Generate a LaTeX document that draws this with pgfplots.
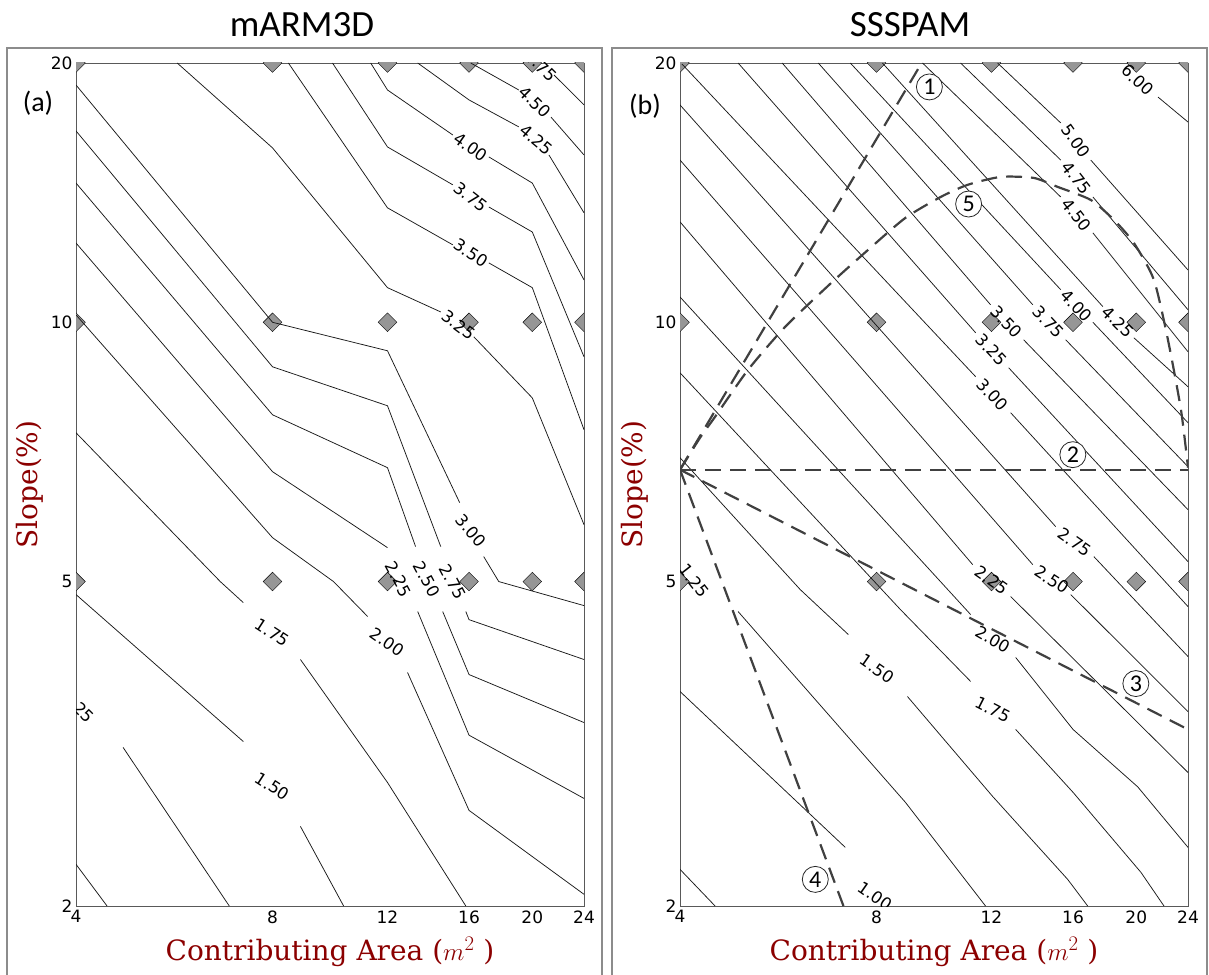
\documentclass[border=0pt]{standalone}
\usepackage{fontspec}
\usepackage{pgfplots}
\pgfplotsset{compat=1.18}
\setmainfont{DejaVu Sans}
\newfontfamily\dvserif{DejaVu Serif}
\newfontfamily\calibri{Carlito}
\definecolor{labred}{RGB}{139,0,0}
\definecolor{markgray}{RGB}{150,150,150}
\definecolor{dashgray}{RGB}{64,64,64}

\tikzset{
  cline/.style={black!90, line width=0.75pt},
  clab/.style={font=\fontsize{16.5}{18}\selectfont, inner sep=0pt},
  route/.style={dashgray, line width=2.2pt, dash pattern=on 16pt off 9pt},
  circ/.style={circle, draw=black!85, line width=0.8pt, fill=white,
    minimum size=26pt, inner sep=0pt, font=\calibri\fontsize{24}{24}\selectfont},
}

\begin{document}
\begin{tikzpicture}
\path[use as bounding box] (0pt,0pt) rectangle (1209pt,974pt);
% panel frames
\draw[black!45, line width=1.3pt] (7pt,-5pt) -- (7pt,926pt) -- (602pt,926pt) -- (602pt,-5pt);
\draw[black!45, line width=1.3pt] (612pt,-5pt) -- (612pt,926pt) -- (1207pt,926pt) -- (1207pt,-5pt);
% titles
\node[font=\calibri\fontsize{37}{40}\selectfont, anchor=base] at (302pt,937pt) {mARM3D};
\node[font=\calibri\fontsize{37}{40}\selectfont, anchor=base] at (910pt,937pt) {SSSPAM};
\node[font=\calibri\fontsize{28}{32}\selectfont] at (38pt,871pt) {(a)};
\node[font=\calibri\fontsize{28}{32}\selectfont] at (645pt,868pt) {(b)};

% ---------------- (a) mARM3D ----------------
% slope axis: logarithmic above 5 %, slightly compressed below
\begin{axis}[at={(76pt,68pt)}, anchor=south west,
    scale only axis, width=508pt, height=843pt,
    xmode=log, xmin=4, xmax=24, ymin=2, ymax=20,
    y coord trafo/.code={\pgfmathparse{(#1>=5) ? ln(#1) : (1.609438-0.9464*(1.609438-ln(#1)))}},
    y coord inv trafo/.code={\pgfmathparse{(#1>=1.609438) ? exp(#1) : exp(1.609438-(1.609438-#1)/0.9464)}},
    xtick={4,8,12,16,20,24},
    xticklabels={\mbox{4},\mbox{8},\mbox{12},\mbox{16},\mbox{20},\mbox{24}},
    ytick={2,5,10,20}, yticklabels={\mbox{2},\mbox{5},\mbox{10},\mbox{20}},
    xminorticks=false, yminorticks=false,
    major tick length=0pt,
    tick label style={font=\fontsize{17}{20}\selectfont},
    xticklabel style={yshift=-1pt},
    axis line style={black!65, line width=0.9pt},
    xlabel={Contributing Area ($m^2$ )},
    ylabel={Slope(\%)},
    label style={font=\dvserif\fontsize{28}{32}\selectfont, color=labred},
    xlabel style={at={(axis description cs:0.5,0)}, anchor=base, yshift=-54pt},
    ylabel style={at={(axis description cs:-0.0906,0.5)}, anchor=center},
    clip marker paths=true]
\addplot[only marks, mark=square*, mark size=6.6pt,
    mark options={rotate=45, draw=none, fill=markgray}]
  coordinates {(4,2)(8,2)(12,2)(16,2)(20,2)(24,2)
  (4,5)(8,5)(12,5)(16,5)(20,5)(24,5)
  (4,10)(8,10)(12,10)(16,10)(20,10)(24,10)
  (4,20)(8,20)(12,20)(16,20)(20,20)(24,20)};
% level 1.00
\addplot[cline, no marks] coordinates {(4,2.25) (4.463,2)};
% level 1.25
\addplot[cline, no marks] coordinates {(4.723,3.13) (6.869,2)};
% level 1.50
\addplot[cline, no marks] coordinates {(4,4.82) (7.217,3.183)};
\addplot[cline, no marks] coordinates {(8.828,2.504) (10.28,2)};
% level 1.75
\addplot[cline, no marks] coordinates {(4,7.444) (6.654,5) (7.217,4.712)};
\addplot[cline, no marks] coordinates {(8.828,4.012) (12,2.835) (15.82,2)};
% level 2.00
\addplot[cline, no marks] coordinates {(4,10.2) (8,5.623) (9.92,5) (11.19,4.53)};
\addplot[cline, no marks] coordinates {(12.88,3.868) (16,2.62) (24,2.067)};
% level 2.25
\addplot[cline, no marks] coordinates {(4,12.36) (8,6.708) (12,5.475)};
\addplot[cline, no marks] coordinates {(13.35,4.594) (16,3.24) (24,2.71)};
% level 2.50
\addplot[cline, no marks] coordinates {(4,14.51) (8,7.81) (12,6.78) (13.25,5.49)};
\addplot[cline, no marks] coordinates {(14.58,4.594) (16,3.846) (24,3.358)};
% level 2.75
\addplot[cline, no marks] coordinates {(4,16.68) (8,8.878) (12,8.0) (14.48,5.49)};
\addplot[cline, no marks] coordinates {(15.82,4.594) (16,4.49) (24,4.012)};
% level 3.00
\addplot[cline, no marks] coordinates {(4,18.86) (8,10) (12,9.267) (15.48,6.175)};
\addplot[cline, no marks] coordinates {(16.85,5.345) (17.77,5) (24,4.672)};
% level 3.25
\addplot[cline, no marks] coordinates {(5.716,20) (8,15.94) (12,10.97) (14.48,10.28)};
\addplot[cline, no marks] coordinates {(16.27,9.62) (20,8.17) (24,5.822)};
% level 3.50
\addplot[cline, no marks] coordinates {(8.461,20) (12,13.58) (15.11,12.30)};
\addplot[cline, no marks] coordinates {(17.16,11.72) (20,10.97) (24,7.504)};
% level 3.75
\addplot[cline, no marks] coordinates {(9.885,20) (12,15.98) (15.11,14.44)};
\addplot[cline, no marks] coordinates {(17.16,13.61) (20,12.73) (24,9.119)};
% level 4.00
\addplot[cline, no marks] coordinates {(11.31,20) (12,18.61) (15.11,16.50)};
\addplot[cline, no marks] coordinates {(17.16,15.56) (20,14.51) (24,11.20)};
% level 4.25
\addplot[cline, no marks] coordinates {(13.35,20) (16,18.12) (19.07,16.86)};
\addplot[cline, no marks] coordinates {(21.21,15.64) (24,13.40)};
% level 4.50
\addplot[cline, no marks] coordinates {(16.10,20) (19.07,18.61)};
\addplot[cline, no marks] coordinates {(21.36,17.31) (24,15.64)};
% level 4.75
\addplot[cline, no marks] coordinates {(21.59,19.37) (24,17.88)};
% contour labels
\node[clab, rotate=-45] at (axis cs:4.03,3.51) {1.25};
\node[clab, rotate=-33] at (axis cs:8,2.804) {1.50};
\node[clab, rotate=-33] at (axis cs:8,4.33) {1.75};
\node[clab, rotate=-35] at (axis cs:12,4.209) {2.00};
\node[clab, rotate=-62] at (axis cs:12.48,5.03) {2.25};
\node[clab, rotate=-62] at (axis cs:13.78,5.03) {2.50};
\node[clab, rotate=-62] at (axis cs:15.11,5.0) {2.75};
\node[clab, rotate=-50] at (axis cs:16.10,5.73) {3.00};
\node[clab, rotate=-37] at (axis cs:15.42,9.93) {3.25};
\node[clab, rotate=-33] at (axis cs:16.10,12.04) {3.50};
\node[clab, rotate=-38] at (axis cs:16.10,13.98) {3.75};
\node[clab, rotate=-35] at (axis cs:16.10,15.98) {4.00};
\node[clab, rotate=-40] at (axis cs:20.26,16.28) {4.25};
\node[clab, rotate=-45] at (axis cs:20.19,18.02) {4.50};
\node[clab, rotate=-45] at (axis cs:20.62,19.84) {4.75};
\end{axis}

% ---------------- (b) SSSPAM ----------------
\begin{axis}[at={(680pt,68pt)}, anchor=south west,
    scale only axis, width=508pt, height=843pt,
    xmode=log, xmin=4, xmax=24, ymin=2, ymax=20,
    y coord trafo/.code={\pgfmathparse{(#1>=5) ? ln(#1) : (1.609438-0.9464*(1.609438-ln(#1)))}},
    y coord inv trafo/.code={\pgfmathparse{(#1>=1.609438) ? exp(#1) : exp(1.609438-(1.609438-#1)/0.9464)}},
    xtick={4,8,12,16,20,24},
    xticklabels={\mbox{4},\mbox{8},\mbox{12},\mbox{16},\mbox{20},\mbox{24}},
    ytick={2,5,10,20}, yticklabels={\mbox{2},\mbox{5},\mbox{10},\mbox{20}},
    xminorticks=false, yminorticks=false,
    major tick length=0pt,
    tick label style={font=\fontsize{17}{20}\selectfont},
    xticklabel style={yshift=-1pt},
    axis line style={black!65, line width=0.9pt},
    xlabel={Contributing Area ($m^2$ )},
    ylabel={Slope(\%)},
    label style={font=\dvserif\fontsize{28}{32}\selectfont, color=labred},
    xlabel style={at={(axis description cs:0.5,0)}, anchor=base, yshift=-54pt},
    ylabel style={at={(axis description cs:-0.0886,0.5)}, anchor=center},
    clip marker paths=true]
\addplot[only marks, mark=square*, mark size=6.6pt,
    mark options={rotate=45, draw=none, fill=markgray}]
  coordinates {(4,2)(8,2)(12,2)(16,2)(20,2)(24,2)
  (4,5)(8,5)(12,5)(16,5)(20,5)(24,5)
  (4,10)(8,10)(12,10)(16,10)(20,10)(24,10)
  (4,20)(8,20)(12,20)(16,20)(20,20)(24,20)};
% level 0.75
\addplot[cline, no marks] coordinates {(4,2.218) (4.527,2)};
% level 1.00
\addplot[cline, no marks] coordinates {(4,3.666) (7.166,2.36)};
% level 1.25
\addplot[cline, no marks] coordinates {(4.91,4.594) (8.859,2.68) (11.75,2)};
% level 1.50
\addplot[cline, no marks] coordinates {(4,6.963) (6.113,4.888) (7.242,4.306)};
\addplot[cline, no marks] coordinates {(8.922,3.614) (12.05,2.725) (15.70,2.156) (16.85,2)};
% level 1.75
\addplot[cline, no marks] coordinates {(4,8.738) (8.704,4.62) (11.15,3.771)};
\addplot[cline, no marks] coordinates {(13.07,3.293) (16,2.757) (20.33,2.199) (22.05,2)};
% level 2.00
\addplot[cline, no marks] coordinates {(4,10.70) (11.15,4.555)};
\addplot[cline, no marks] coordinates {(13.07,4.035) (16,3.293) (20.1,2.80) (24,2.36)};
% level 2.25
\addplot[cline, no marks] coordinates {(4,13.08) (11.23,5.232)};
\addplot[cline, no marks] coordinates {(12.84,4.793) (24,2.916)};
% level 2.50
\addplot[cline, no marks] coordinates {(4,15.43) (13.88,5.232)};
\addplot[cline, no marks] coordinates {(15.87,4.82) (24,3.464)};
% level 2.75
\addplot[cline, no marks] coordinates {(4,17.88) (15.05,5.791)};
\addplot[cline, no marks] coordinates {(17.22,5.345) (24,4.046)};
% level 3.00
\addplot[cline, no marks] coordinates {(4.028,19.95) (11.35,8.645)};
\addplot[cline, no marks] coordinates {(12.84,7.853) (24,4.659)};
% level 3.25
\addplot[cline, no marks] coordinates {(4.91,20) (11.35,9.723)};
\addplot[cline, no marks] coordinates {(12.75,8.855) (24,5.274)};
% level 3.50
\addplot[cline, no marks] coordinates {(5.736,20) (11.96,10.48)};
\addplot[cline, no marks] coordinates {(13.44,9.543) (24,6.06)};
% level 3.75
\addplot[cline, no marks] coordinates {(6.514,20) (13.88,10.48)};
\addplot[cline, no marks] coordinates {(15.59,9.543) (24,6.798)};
% level 4.00
\addplot[cline, no marks] coordinates {(7.294,20) (15.32,10.91)};
\addplot[cline, no marks] coordinates {(17.16,10.0) (24,7.646)};
% level 4.25
\addplot[cline, no marks] coordinates {(8.168,20) (17.77,10.43)};
\addplot[cline, no marks] coordinates {(19.83,9.594) (24,8.417)};
% level 4.50
\addplot[cline, no marks] coordinates {(9.408,20) (15.32,13.98)};
\addplot[cline, no marks] coordinates {(17.16,12.70) (24,9.242)};
% level 4.75
\addplot[cline, no marks] coordinates {(10.76,20) (15.32,15.43)};
\addplot[cline, no marks] coordinates {(17.16,13.98) (24,10.34)};
% level 5.00
\addplot[cline, no marks] coordinates {(12.26,20) (15.32,17.04)};
\addplot[cline, no marks] coordinates {(17.03,15.43) (24,11.5)};
% level 6.00
\addplot[cline, no marks] coordinates {(21.59,18.26) (24,17.08)};
% scenario paths
\addplot[route, no marks] coordinates {(4,6.743) (9.38,20)};
\addplot[route, no marks] coordinates {(4,6.743) (24,6.743)};
\addplot[route, no marks] coordinates {(4,6.743) (24,3.293)};
\addplot[route, no marks] coordinates {(4,6.743) (7.12,2)};
\addplot[route, no marks, smooth, tension=0.4] coordinates {(4,6.743) (4.293,7.345) (4.527,7.769)
  (5.086,8.809) (5.797,9.88) (6.845,11.14) (7.828,12.20) (8.859,13.22) (10.03,13.98)
  (11.03,14.44) (12.39,14.75) (13.93,14.71) (15.16,14.36) (17.03,13.87) (18.48,13.15)
  (19.83,12.36) (21.28,11.20) (22.36,9.543) (23.41,7.916) (24,6.78)};
% contour labels
\node[clab, rotate=-35] at (axis cs:7.968,2.055) {1.00};
\node[clab, rotate=-52] at (axis cs:4.203,5.014) {1.25};
\node[clab, rotate=-35] at (axis cs:8.025,3.911) {1.50};
\node[clab, rotate=-27] at (axis cs:12.05,3.484) {1.75};
\node[clab, rotate=-30] at (axis cs:12.05,4.245) {2.00};
\node[clab, rotate=-35] at (axis cs:12.01,5.014) {2.25};
\node[clab, rotate=-33] at (axis cs:14.84,5.027) {2.50};
\node[clab, rotate=-35] at (axis cs:16.10,5.563) {2.75};
\node[clab, rotate=-47] at (axis cs:12.05,8.239) {3.00};
\node[clab, rotate=-47] at (axis cs:12.01,9.292) {3.25};
\node[clab, rotate=-47] at (axis cs:12.66,10.01) {3.50};
\node[clab, rotate=-47] at (axis cs:14.68,10.01) {3.75};
\node[clab, rotate=-46] at (axis cs:16.21,10.45) {4.00};
\node[clab, rotate=-45] at (axis cs:18.74,10.01) {4.25};
\node[clab, rotate=-52] at (axis cs:16.21,13.33) {4.50};
\node[clab, rotate=-52] at (axis cs:16.21,14.71) {4.75};
\node[clab, rotate=-55] at (axis cs:16.16,16.24) {5.00};
\node[clab, rotate=-43] at (axis cs:20.1,19.11) {6.00};
% path markers
\node[circ] at (axis cs:9.64,18.76) {1};
\node[circ] at (axis cs:15.99,7.02) {2};
\node[circ] at (axis cs:19.97,3.749) {3};
\node[circ] at (axis cs:6.446,2.156) {4};
\node[circ] at (axis cs:11.07,13.72) {5};
\end{axis}
\end{tikzpicture}
\end{document}
